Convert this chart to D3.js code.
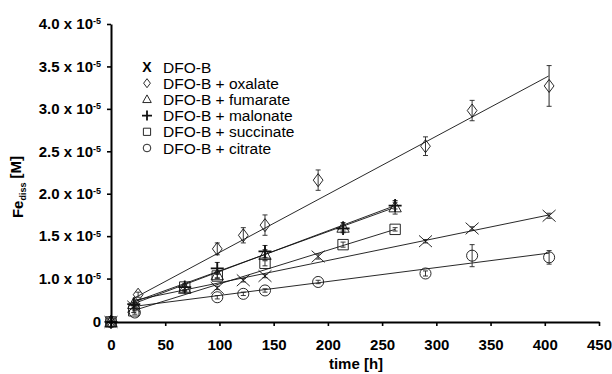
<!DOCTYPE html>
<html>
<head>
<meta charset="utf-8">
<script src="https://cdn.jsdelivr.net/npm/d3@7/dist/d3.min.js"></script>
<style>
  body { margin: 0; background: #fff; }
  text { font-family: Arial, "Liberation Sans", sans-serif; }
</style>
</head>
<body>
<svg id="chart" width="612" height="374"></svg>
<script>
// all concentrations are in units of 1e-5 M
var seriesNames = ['DFO-B', 'DFO-B + oxalate', 'DFO-B + fumarate', 'DFO-B + malonate', 'DFO-B + succinate', 'DFO-B + citrate'];
var seriesSymbols = ['x', 'diamond', 'triangle', 'plus', 'square', 'circle'];

var dfoTime = [0, 21, 98, 122, 142, 191, 290, 333, 404];
var dfoVal  = [0.02, 0.67, 0.89, 0.98, 1.03, 1.26, 1.44, 1.59, 1.74];
var dfoErr  = [0, 0.02, 0.02, 0.02, 0.02, 0.03, 0.02, 0.02, 0.03];

var oxaTime = [0, 25, 98, 122, 142, 191, 290, 333, 404];
var oxaVal  = [0.03, 0.81, 1.35, 1.51, 1.63, 2.16, 2.56, 2.98, 3.27];
var oxaErr  = [0, 0.03, 0.07, 0.09, 0.12, 0.12, 0.11, 0.12, 0.24];

var fumTime = [0, 21, 68, 98, 142, 214, 262];
var fumVal  = [0.02, 0.70, 0.88, 1.04, 1.28, 1.60, 1.84];
var fumErr  = [0, 0.02, 0.03, 0.03, 0.06, 0.06, 0.08];

var malTime = [0, 21, 68, 98, 142, 214, 262];
var malVal  = [0.02, 0.70, 0.90, 1.12, 1.32, 1.59, 1.86];
var malErr  = [0, 0.02, 0.04, 0.07, 0.07, 0.03, 0.04];

var sucTime = [0, 21, 68, 98, 142, 214, 262];
var sucVal  = [0.03, 0.62, 0.90, 1.03, 1.18, 1.40, 1.58];
var sucErr  = [0, 0.02, 0.03, 0.03, 0.03, 0.03, 0.02];

var citTime = [0, 22, 98, 122, 142, 191, 290, 333, 404];
var citVal  = [0.02, 0.60, 0.78, 0.82, 0.86, 0.96, 1.06, 1.27, 1.25];
var citErr  = [0, 0.02, 0.02, 0.02, 0.02, 0.02, 0.03, 0.13, 0.08];

// regression lines drawn in the figure (start / end)
var fitT0 = [20, 20, 20, 20, 20, 20];
var fitV0 = [0.74, 0.76, 0.70, 0.72, 0.62, 0.67];
var fitT1 = [404, 404, 262, 262, 262, 404];
var fitV1 = [1.75, 3.39, 1.86, 1.84, 1.58, 1.30];

var xTicks = [0, 50, 100, 150, 200, 250, 300, 350, 400, 450];
var yTicks = [0, 1.0, 1.5, 2.0, 2.5, 3.0, 3.5, 4.0];
var yTickLabels = ['0', '1.0', '1.5', '2.0', '2.5', '3.0', '3.5', '4.0'];

var series = [
  {t: dfoTime, v: dfoVal, e: dfoErr},
  {t: oxaTime, v: oxaVal, e: oxaErr},
  {t: fumTime, v: fumVal, e: fumErr},
  {t: malTime, v: malVal, e: malErr},
  {t: sucTime, v: sucVal, e: sucErr},
  {t: citTime, v: citVal, e: citErr}
];

var svg = d3.select('#chart');

var x = d3.scaleLinear().domain([0, 450]).range([111, 599]);
// the axis is broken below 0.5e-5: zero sits just under the 0.5 position
var y = d3.scaleLinear().domain([0, 0.5, 4.0]).range([322, 321, 24]);

// fit lines
var fits = d3.range(6).map(function(i){
  return {t0: fitT0[i], v0: fitV0[i], t1: fitT1[i], v1: fitV1[i]};
});
svg.append('g').selectAll('line')
  .data(fits)
  .enter().append('line')
  .attr('x1', function(d){ return x(d.t0); })
  .attr('y1', function(d){ return y(d.v0); })
  .attr('x2', function(d){ return x(d.t1); })
  .attr('y2', function(d){ return y(d.v1); })
  .style('stroke', '#111')
  .style('stroke-width', 0.9);

function symbolPath(type, s){
  if(type == 'diamond') return 'M0,' + (-s) + 'L' + (s*0.75) + ',0L0,' + s + 'L' + (-s*0.75) + ',0Z';
  if(type == 'triangle') return 'M0,' + (-s) + 'L' + (s*0.95) + ',' + (s*0.7) + 'L' + (-s*0.95) + ',' + (s*0.7) + 'Z';
  if(type == 'square') return 'M' + (-s*0.8) + ',' + (-s*0.8) + 'h' + (s*1.6) + 'v' + (s*1.6) + 'h' + (-s*1.6) + 'Z';
  if(type == 'plus') return 'M' + (-s) + ',0H' + s + 'M0,' + (-s) + 'V' + s;
  if(type == 'x') return 'M' + (-s) + ',' + (-s*0.9) + 'L' + s + ',' + (s*0.9) + 'M' + (-s) + ',' + (s*0.9) + 'L' + s + ',' + (-s*0.9);
  return null;
}

function drawSymbol(g, type, s){
  if(type == 'circle'){
    g.append('circle').attr('r', s*0.85).style('fill', 'none').style('stroke', '#111').style('stroke-width', 0.9);
  } else {
    g.append('path').attr('d', symbolPath(type, s))
      .style('fill', 'none')
      .style('stroke', '#111')
      .style('stroke-width', type == 'plus' ? 1.8 : 0.9);
  }
}

// points with error bars
series.forEach(function(sr, si){
  var pts = sr.t.map(function(t, i){ return {t: t, v: sr.v[i], e: sr.e[i]}; });
  var g = svg.append('g');
  var eb = g.selectAll('.eb').data(pts.filter(function(d){ return d.e > 0; }))
    .enter().append('g').attr('class', 'eb');
  eb.append('line')
    .attr('x1', function(d){ return x(d.t); }).attr('x2', function(d){ return x(d.t); })
    .attr('y1', function(d){ return y(d.v - d.e); }).attr('y2', function(d){ return y(d.v + d.e); })
    .style('stroke', function(d){ return d.e > 0.2 ? '#777' : '#222'; })
    .style('stroke-width', function(d){ return d.e > 0.2 ? 1.6 : 0.9; });
  [-1, 1].forEach(function(sg){
    eb.append('line')
      .attr('x1', function(d){ return x(d.t) - 2.5; }).attr('x2', function(d){ return x(d.t) + 2.5; })
      .attr('y1', function(d){ return y(d.v + sg*d.e); }).attr('y2', function(d){ return y(d.v + sg*d.e); })
      .style('stroke', '#222').style('stroke-width', 0.9);
  });
  g.selectAll('.pt').data(pts)
    .enter().append('g').attr('class', 'pt')
    .attr('transform', function(d){ return 'translate(' + x(d.t) + ',' + y(d.v) + ')'; })
    .each(function(){ drawSymbol(d3.select(this), seriesSymbols[si], 6.5); });
});

// axes
var xAxis = svg.append('g')
  .attr('transform', 'translate(0,322)')
  .call(d3.axisBottom(x).tickValues(xTicks).tickSize(4).tickPadding(13).tickSizeOuter(0));
var yAxis = svg.append('g')
  .attr('transform', 'translate(111,0)')
  .call(d3.axisLeft(y).tickValues(yTicks).tickSize(4).tickPadding(6).tickSizeOuter(0));

[xAxis, yAxis].forEach(function(a){
  a.select('.domain').style('stroke', '#000').style('stroke-width', 2);
  a.selectAll('.tick line').style('stroke', '#000').style('stroke-width', 1.6);
  a.selectAll('text').style('font-family', 'Arial, "Liberation Sans", sans-serif')
    .style('font-size', '15px').style('font-weight', 'bold').style('fill', '#000');
});

yAxis.selectAll('.tick text').each(function(d, i){
  var t = d3.select(this);
  t.text(null);
  t.append('tspan').text(yTickLabels[i] == '0' ? '0' : yTickLabels[i] + ' x 10');
  if(yTickLabels[i] != '0'){
    t.append('tspan').attr('dy', '-0.55em').style('font-size', '9px').text('-5');
  }
});

// axis titles
svg.append('text')
  .attr('x', 356).attr('y', 369)
  .attr('text-anchor', 'middle')
  .style('font-size', '15px').style('font-weight', 'bold')
  .text('time [h]');

var yl = svg.append('text')
  .attr('transform', 'translate(23,187) rotate(-90)')
  .attr('text-anchor', 'middle')
  .style('font-size', '15px').style('font-weight', 'bold');
yl.append('tspan').text('Fe');
yl.append('tspan').attr('dy', '0.3em').style('font-size', '9px').text('diss');
yl.append('tspan').attr('dy', '-0.3em').text(' [M]');

// legend
var leg = svg.append('g').attr('transform', 'translate(147,67)');
var items = leg.selectAll('.item').data(seriesNames)
  .enter().append('g').attr('class', 'item')
  .attr('transform', function(d, i){ return 'translate(0,' + (i*16.2) + ')'; });
items.each(function(d, i){
  var g = d3.select(this);
  if(seriesSymbols[i] == 'x'){
    g.append('text').attr('text-anchor', 'middle').attr('y', 5)
      .style('font-size', '14px').style('font-weight', 'bold').text('X');
  } else {
    drawSymbol(g, seriesSymbols[i], seriesSymbols[i] == 'plus' ? 5 : 4.5);
  }
});
items.append('text')
  .attr('x', 16).attr('y', 5.5)
  .style('font-size', '15.5px')
  .text(function(d){ return d; });
</script>
</body>
</html>
